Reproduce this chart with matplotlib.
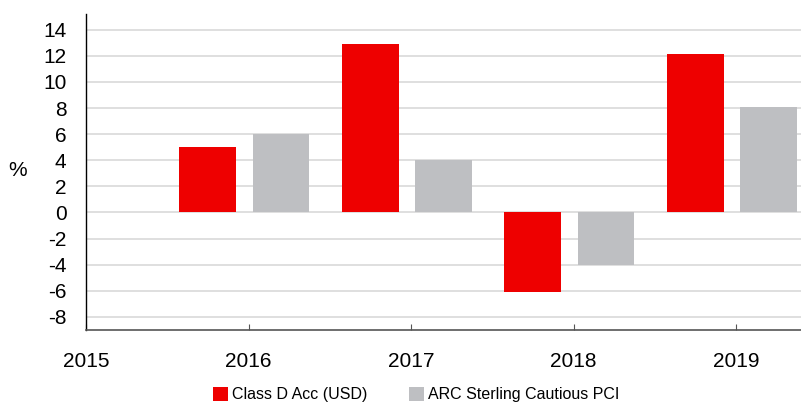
import matplotlib.pyplot as plt
import numpy as np

plt.rcParams['font.family'] = ['Liberation Sans', 'DejaVu Sans']
plt.rcParams['axes.unicode_minus'] = False

years = [2016, 2017, 2018, 2019]
tick_years = [2015, 2016, 2017, 2018, 2019]
fund = [5.0, 12.9, -6.1, 12.1]
sector = [6.0, 4.0, -4.0, 8.1]
fund_label = 'Class D Acc (USD)'
sector_label = 'ARC Sterling Cautious PCI'

RED = '#ee0000'
GREY = '#bebfc2'

fig = plt.figure(figsize=(8.01, 4.05), dpi=100)
ax = fig.add_axes([0.1074, 0.1852, 0.8926, 0.7802])

x = np.array(years) - 0.025
w = 0.35
ax.bar(x - 0.225, fund, width=w, color=RED, label=fund_label, zorder=3)
ax.bar(x + 0.225, sector, width=w, color=GREY, label=sector_label, zorder=3)

ax.set_xlim(2015, 2019.4)
ax.set_ylim(-9, 15.2)
ax.set_yticks(range(-8, 15, 2))
ax.set_xticks(tick_years)
ax.set_xticklabels([str(y) for y in tick_years])
ax.yaxis.grid(True, color='#d9d9d9', linewidth=1.2, zorder=0)
ax.set_axisbelow(True)

for s in ['top', 'right']:
    ax.spines[s].set_visible(False)
ax.spines['left'].set_color('black')
ax.spines['left'].set_linewidth(1.0)
ax.spines['bottom'].set_color('#555555')
ax.spines['bottom'].set_linewidth(1.2)

ax.tick_params(axis='y', length=0, labelsize=15, pad=14)
ax.tick_params(axis='x', direction='in', length=4, color='#555555',
               labelsize=15, pad=16)

fig.text(0.010, 0.58, '%', fontsize=15, va='center', ha='left')

fig.legend(loc='center', bbox_to_anchor=(0.52, 0.025), ncol=2,
           frameon=False, fontsize=11.5, handlelength=0.9, handleheight=0.9,
           handletextpad=0.3, columnspacing=2.6, borderpad=0.1)

plt.savefig('out.png', dpi=100)
